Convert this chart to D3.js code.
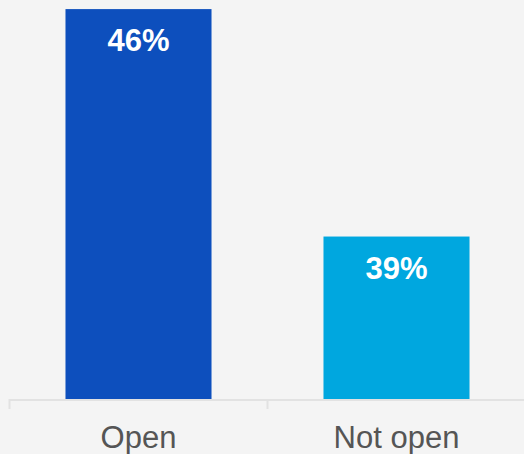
<!DOCTYPE html>
<html>
<head>
<meta charset="utf-8">
<script src="https://cdn.jsdelivr.net/npm/d3@7"></script>
<style>
  html, body { margin: 0; padding: 0; background: #f4f4f4; }
  svg { display: block; }
</style>
</head>
<body>
<svg id="chart" width="524" height="454"></svg>
<script>
// Share of respondents by status
const categories = ["Open", "Not open"];
const values = [46, 39];
const valueLabels = ["46%", "39%"];
const barColors = ["#0d4fbd", "#00a7df"];

const width = 524, height = 454;
const svg = d3.select("#chart");

svg.append("rect").attr("width", width).attr("height", height).attr("fill", "#f4f4f4");

const x = d3.scaleBand()
  .domain(categories)
  .range([9.5, 525.5])
  .paddingInner(0.434)
  .paddingOuter(0.217);

const baseY = 399;
const y = d3.scaleLinear().domain([34, 46.28]).range([baseY, 0]);

// bars
svg.selectAll("rect.bar")
  .data(categories)
  .join("rect")
  .attr("class", "bar")
  .attr("x", d => x(d))
  .attr("width", x.bandwidth())
  .attr("y", (d, i) => y(values[i]))
  .attr("height", (d, i) => baseY - y(values[i]))
  .attr("fill", (d, i) => barColors[i]);

// value labels inside bars
svg.selectAll("text.val")
  .data(categories)
  .join("text")
  .attr("class", "val")
  .attr("x", d => x(d) + x.bandwidth() / 2)
  .attr("y", (d, i) => y(values[i]) + 42)
  .attr("text-anchor", "middle")
  .attr("fill", "#ffffff")
  .attr("font-family", "Liberation Sans, Arial, sans-serif")
  .attr("font-weight", "bold")
  .attr("font-size", 31)
  .text((d, i) => valueLabels[i]);

// category axis: baseline with ticks on the band boundaries
const step = x.step();
const axisG = svg.append("g");
axisG.append("line")
  .attr("x1", 9.5).attr("x2", width + 2)
  .attr("y1", 400).attr("y2", 400)
  .attr("stroke", "#e2e2e2").attr("stroke-width", 2);
axisG.selectAll("line.tick")
  .data(categories)
  .join("line")
  .attr("class", "tick")
  .attr("x1", d => x(d) - (x.paddingInner() / 2) * step)
  .attr("x2", d => x(d) - (x.paddingInner() / 2) * step)
  .attr("y1", 399).attr("y2", 409)
  .attr("stroke", "#e2e2e2").attr("stroke-width", 2);

axisG.selectAll("text.cat")
  .data(categories)
  .join("text")
  .attr("class", "cat")
  .attr("x", d => x(d) + x.bandwidth() / 2)
  .attr("y", 448)
  .attr("text-anchor", "middle")
  .attr("fill", "#555555")
  .attr("font-family", "Liberation Sans, Arial, sans-serif")
  .attr("font-size", 31)
  .text(d => d);
</script>
</body>
</html>
